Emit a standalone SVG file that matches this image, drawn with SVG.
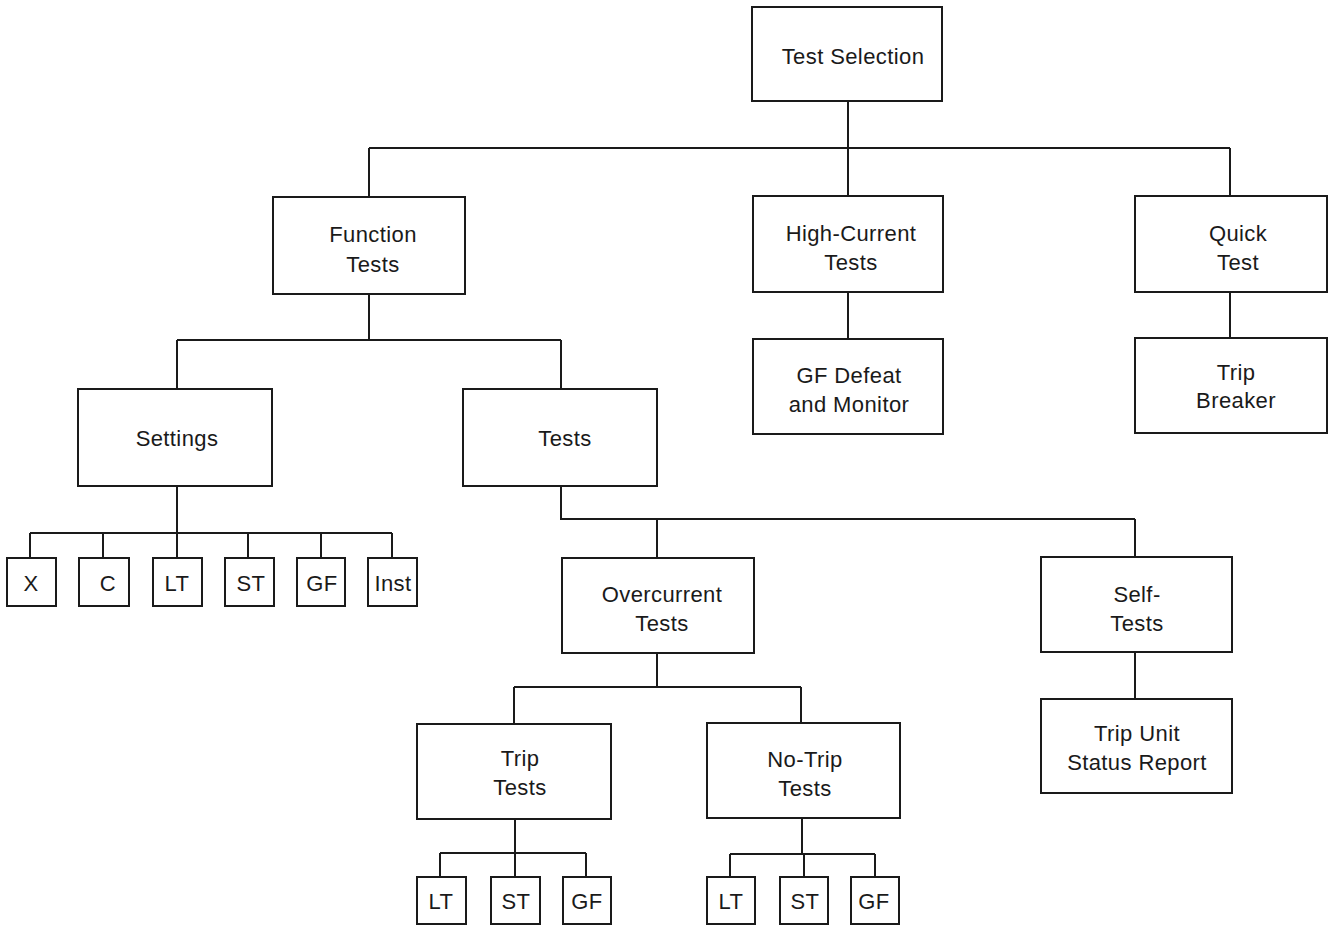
<svg xmlns="http://www.w3.org/2000/svg" width="1331" height="926" viewBox="0 0 1331 926">
<style>
.b{fill:#fff;stroke:#1a1a1a;stroke-width:2}
.c{fill:none;stroke:#1a1a1a;stroke-width:2}
text{font-family:"Liberation Sans",Arial,sans-serif;font-size:22px;fill:#1a1a1a;text-anchor:middle;letter-spacing:0.4px}
</style>
<rect width="1331" height="926" fill="#fff"/>
<g id="connectors">
<path class="c" d="M848 101V148M369 148H1230M369 148V197M848 148V196M1230 148V196"/>
<path class="c" d="M848 292V339M1230 292V338"/>
<path class="c" d="M369 294V340M177 340H561M177 340V389M561 340V389"/>
<path class="c" d="M177 486V533M30 533H392M30 533V558M103 533V558M177 533V558M248 533V558M321 533V558M392 533V558"/>
<path class="c" d="M561 486V519H1135M657 519V558M1135 519V557M1135 652V699"/>
<path class="c" d="M657 653V687M514 687H801M514 687V724M801 687V723"/>
<path class="c" d="M515 819V853M440 853H586M440 853V877M515 853V877M586 853V877"/>
<path class="c" d="M802 818V854M730 854H875M730 854V877M804 854V877M875 854V877"/>
</g>
<g id="n-test-selection"><rect class="b" x="752" y="7" width="190" height="94"/><text x="853" y="64">Test Selection</text></g>
<g id="n-function-tests"><rect class="b" x="273" y="197" width="192" height="97"/><text x="373" y="242">Function</text><text x="373" y="272">Tests</text></g>
<g id="n-high-current"><rect class="b" x="753" y="196" width="190" height="96"/><text x="851" y="241">High-Current</text><text x="851" y="270">Tests</text></g>
<g id="n-quick-test"><rect class="b" x="1135" y="196" width="192" height="96"/><text x="1238" y="241">Quick</text><text x="1238" y="270">Test</text></g>
<g id="n-gf-defeat"><rect class="b" x="753" y="339" width="190" height="95"/><text x="849" y="383">GF Defeat</text><text x="849" y="412">and Monitor</text></g>
<g id="n-trip-breaker"><rect class="b" x="1135" y="338" width="192" height="95"/><text x="1236" y="380">Trip</text><text x="1236" y="408">Breaker</text></g>
<g id="n-settings"><rect class="b" x="78" y="389" width="194" height="97"/><text x="177" y="446">Settings</text></g>
<g id="n-tests"><rect class="b" x="463" y="389" width="194" height="97"/><text x="565" y="446">Tests</text></g>
<g id="n-x"><rect class="b" x="7" y="558" width="49" height="48"/><text x="31" y="591">X</text></g>
<g id="n-c"><rect class="b" x="79" y="558" width="50" height="48"/><text x="108" y="591">C</text></g>
<g id="n-lt1"><rect class="b" x="153" y="558" width="49" height="48"/><text x="177" y="591">LT</text></g>
<g id="n-st1"><rect class="b" x="225" y="558" width="49" height="48"/><text x="251" y="591">ST</text></g>
<g id="n-gf1"><rect class="b" x="297" y="558" width="48" height="48"/><text x="322" y="591">GF</text></g>
<g id="n-inst"><rect class="b" x="368" y="558" width="49" height="48"/><text x="393" y="591">Inst</text></g>
<g id="n-overcurrent"><rect class="b" x="562" y="558" width="192" height="95"/><text x="662" y="602">Overcurrent</text><text x="662" y="631">Tests</text></g>
<g id="n-self-tests"><rect class="b" x="1041" y="557" width="191" height="95"/><text x="1137" y="602">Self-</text><text x="1137" y="631">Tests</text></g>
<g id="n-status-report"><rect class="b" x="1041" y="699" width="191" height="94"/><text x="1137" y="741">Trip Unit</text><text x="1137" y="770">Status Report</text></g>
<g id="n-trip-tests"><rect class="b" x="417" y="724" width="194" height="95"/><text x="520" y="766">Trip</text><text x="520" y="795">Tests</text></g>
<g id="n-no-trip-tests"><rect class="b" x="707" y="723" width="193" height="95"/><text x="805" y="767">No-Trip</text><text x="805" y="796">Tests</text></g>
<g id="n-lt2"><rect class="b" x="417" y="877" width="49" height="47"/><text x="441" y="909">LT</text></g>
<g id="n-st2"><rect class="b" x="491" y="877" width="49" height="47"/><text x="516" y="909">ST</text></g>
<g id="n-gf2"><rect class="b" x="563" y="877" width="48" height="47"/><text x="587" y="909">GF</text></g>
<g id="n-lt3"><rect class="b" x="707" y="877" width="48" height="47"/><text x="731" y="909">LT</text></g>
<g id="n-st3"><rect class="b" x="780" y="877" width="48" height="47"/><text x="805" y="909">ST</text></g>
<g id="n-gf3"><rect class="b" x="851" y="877" width="48" height="47"/><text x="874" y="909">GF</text></g>
</svg>
